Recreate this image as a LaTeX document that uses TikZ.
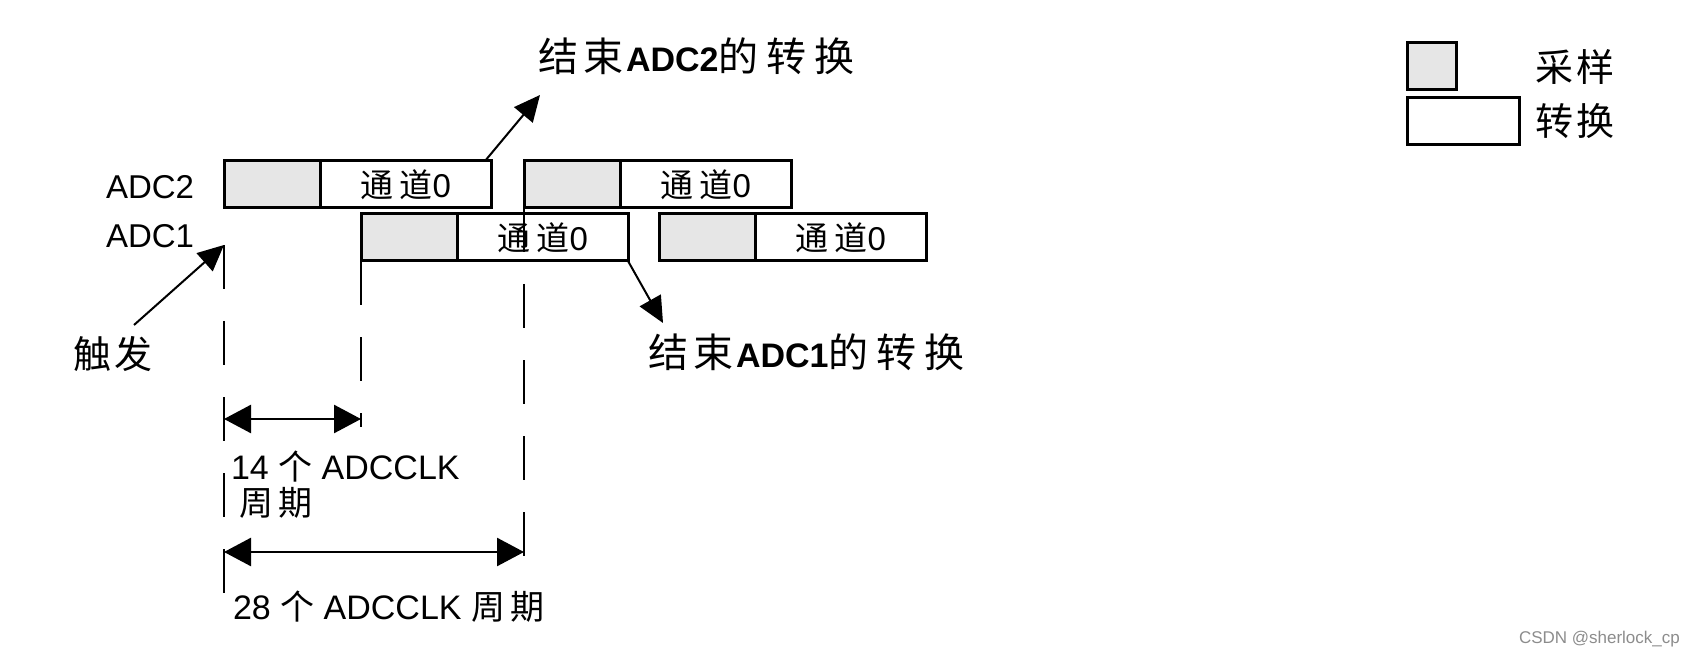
\documentclass[tikz,border=0pt]{standalone}
\usepackage{fontspec}
\setmainfont{Liberation Sans}
\newfontfamily\cjk{Noto Sans CJK SC}
\newcommand{\zh}[1]{{\cjk #1}}
\usetikzlibrary{arrows.meta, positioning}
\definecolor{sgrey}{HTML}{E6E6E6}
\definecolor{wgrey}{HTML}{8C8C8C}
\tikzset{
  every picture/.style={line width=1pt},
  sample/.style={draw, fill=sgrey, line width=1.5pt, anchor=north west, inner sep=0pt, outer sep=0pt, minimum width=48pt, minimum height=23.5pt},
  conv/.style={draw, fill=white, line width=1.5pt, anchor=north west, inner sep=0pt, outer sep=0pt, minimum width=85.5pt, minimum height=23.5pt, font=\fontsize{16.5}{18}\selectfont},
  arrow/.style={-{Triangle[length=13pt, width=12pt]}, line width=1pt},
  span/.style={{Triangle[length=13.5pt, width=14pt]}-{Triangle[length=13.5pt, width=14pt]}, line width=1.3pt},
  guide/.style={line width=1pt, dash pattern=on 22pt off 16pt},
  lbl/.style={font=\fontsize{16.5}{19}\selectfont, inner sep=0pt, anchor=west},
  big/.style={font=\fontsize{19}{22}\selectfont, inner sep=0pt, anchor=west},
  endlbl/.style={font=\fontsize{20}{23}\selectfont, inner sep=0pt, anchor=west},
}

\begin{document}
\begin{tikzpicture}[x=0.5pt, y=-0.5pt]
  \useasboundingbox (0,0) rectangle (1684,657);
  % sampling + conversion boxes
  \foreach \n/\X/\Y in {2a/224/161, 2b/524/161, 1a/361/214, 1b/659/214} {
    \node[sample] (s\n) at (\X,\Y) {};
    \node[conv] (c\n) at (s\n.north east) {\zh{通\hspace{.2em}道}0};
  }
  \node[lbl] (adc2) at (105,187) {ADC2};
  \node[lbl] (adc1) at (105,236) {ADC1};

  % guide lines
  \coordinate (g0top) at (224,245);
  \coordinate (g0bot) at (224,614);
  \coordinate (t14) at (224,419);
  \coordinate (t28) at (224,552);
  \coordinate (e14) at (s1a.south west |- t14);
  \coordinate (e28) at (s2b.south west |- t28);
  \draw[guide] (g0top) -- (g0bot);
  \draw[guide] (s1a.south west) -- ([yshift=-4pt]e14);
  \draw[guide] (s2b.south west) -- ([yshift=-13pt]e28);

  % spans
  \draw[span] (t14) -- (e14);
  \draw[span] (t28) -- (e28);
  \node[lbl, font=\fontsize{17}{20}\selectfont] (n14) at (230,467) {14 \zh{个} ADCCLK};
  \node[lbl, font=\fontsize{17}{20}\selectfont] (n14b) at (238,503) {\zh{周\hspace{.15em}期}};
  \node[lbl, font=\fontsize{17}{20}\selectfont] (n28) at (232,607) {28 \zh{个} ADCCLK \zh{周\hspace{.15em}期}};

  % trigger and end of conversion
  \node[big] (trig) at (72,354) {\zh{触\hspace{.1em}发}};
  \coordinate (trigtail) at (134,325);
  \draw[arrow] (trigtail) -- (g0top);
  \node[endlbl] (end2) at (537,56) {\zh{结\hspace{.15em}束}\hspace{.05em}{\fontsize{17}{20}\selectfont\bfseries ADC2}\zh{的\hspace{.2em}转\hspace{.2em}换}};
  \coordinate (end2tip) at (540,95);
  \draw[arrow] ([xshift=-3pt]c2a.north east) -- (end2tip);
  \node[endlbl] (end1) at (647,352) {\zh{结\hspace{.15em}束}\hspace{.05em}{\fontsize{17}{20}\selectfont\bfseries ADC1}\zh{的\hspace{.2em}转\hspace{.2em}换}};
  \coordinate (end1tip) at (663,323);
  \draw[arrow] (c1a.south east) -- (end1tip);

  % legend
  \node[sample, minimum width=24.5pt] (legs) at (1407,43) {};
  \node[conv, minimum width=56pt] (legc) at (1407,98) {};
  \node[big] (legst) at (1534,67) {\zh{采\hspace{.1em}样}};
  \node[big] (legct) at (1534,121) {\zh{转\hspace{.1em}换}};

  \node[font=\fontsize{8.5}{10}\selectfont, text=wgrey, inner sep=0pt, anchor=west] (wm) at (1518,639) {CSDN @sherlock\_cp};
\end{tikzpicture}
\end{document}
